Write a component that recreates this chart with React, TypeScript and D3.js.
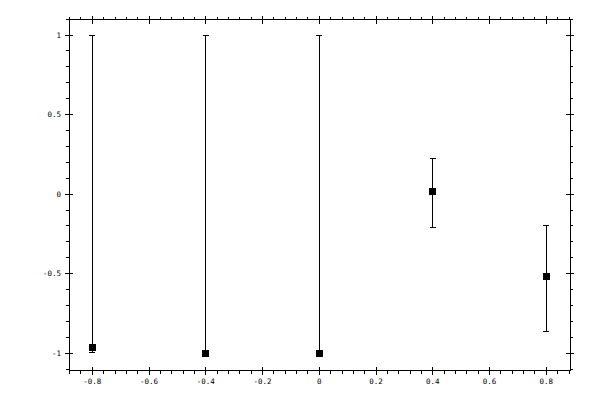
import React from "react";
import * as d3 from "d3";

const xValues = [-0.8, -0.4, 0, 0.4, 0.8];
const yValues = [-0.962, -1.0, -1.0, 0.018, -0.516];
const yLower = [-0.997, -1.0, -1.0, -0.208, -0.861];
const yUpper = [1.0, 1.0, 1.0, 0.223, -0.2];
const xTickLabels = ["-0.8", "-0.6", "-0.4", "-0.2", "0", "0.2", "0.4", "0.6", "0.8"];
const yTickLabels = ["-1", "-0.5", "0", "0.5", "1"];

const W = 600;
const H = 400;
const left = 69;
const right = 570;
const top = 19.5;
const bottom = 370.5;

export default function App() {
  const x = d3.scaleLinear().domain([-0.8, 0.8]).range([92.3, 546.3]);
  const y = d3.scaleLinear().domain([-1, 1]).range([353.2, 35]);

  const xMajor = xTickLabels.map(Number);
  const yMajor = yTickLabels.map(Number);
  const xMinor = d3.range(-22, 23).map((i) => i * 0.04).filter((v) => !xMajor.some((m) => Math.abs(m - v) < 1e-6));
  const yMinor = d3.range(-11, 12).map((i) => i * 0.1).filter((v) => !yMajor.some((m) => Math.abs(m - v) < 1e-6));

  const font = "'DejaVu Sans Mono', monospace";
  const cap = 3;
  const ms = 7;

  return (
    <svg width={W} height={H} style={{ position: "absolute", left: 0, top: 0, background: "#fff" }} shapeRendering="crispEdges">
      <rect x={0} y={0} width={W} height={H} fill="#fff" />
      <g stroke="#000" strokeWidth={1}>
        {/* frame */}
        <line x1={left} y1={top} x2={right} y2={top} />
        <line x1={left} y1={bottom} x2={right} y2={bottom} />
        <line x1={left} y1={top} x2={left} y2={bottom} />
        <line x1={right} y1={top} x2={right} y2={bottom} />
        {/* x minor ticks */}
        {xMinor.map((v, i) => (
          <g key={"xm" + i}>
            <line x1={x(v)} x2={x(v)} y1={bottom} y2={bottom + 3} />
            <line x1={x(v)} x2={x(v)} y1={top} y2={top - 3} />
          </g>
        ))}
        {xMajor.map((v, i) => (
          <g key={"xM" + i}>
            <line x1={x(v)} x2={x(v)} y1={bottom - 4} y2={bottom + 4} />
            <line x1={x(v)} x2={x(v)} y1={top - 4} y2={top + 4} />
          </g>
        ))}
        {yMinor.map((v, i) => (
          <g key={"ym" + i}>
            <line x1={left - 3} x2={left} y1={y(v)} y2={y(v)} />
            <line x1={right} x2={right + 3} y1={y(v)} y2={y(v)} />
          </g>
        ))}
        {yMajor.map((v, i) => (
          <g key={"yM" + i}>
            <line x1={left - 4} x2={left + 4} y1={y(v)} y2={y(v)} />
            <line x1={right - 4} x2={right + 4} y1={y(v)} y2={y(v)} />
          </g>
        ))}
        {/* error bars */}
        {xValues.map((v, i) => (
          <g key={"e" + i}>
            <line x1={x(v)} x2={x(v)} y1={y(yLower[i])} y2={y(yUpper[i])} />
            <line x1={x(v) - cap} x2={x(v) + cap} y1={y(yLower[i])} y2={y(yLower[i])} />
            <line x1={x(v) - cap} x2={x(v) + cap} y1={y(yUpper[i])} y2={y(yUpper[i])} />
          </g>
        ))}
      </g>
      {xValues.map((v, i) => (
        <rect key={"m" + i} x={x(v) - ms / 2} y={y(yValues[i]) - ms / 2} width={ms} height={ms} fill="#000" />
      ))}
      <g fontFamily={font} fontSize={7.5} fill="#000">
        {xMajor.map((v, i) => (
          <text key={"xl" + i} x={x(v)} y={383.5} textAnchor="middle">
            {xTickLabels[i]}
          </text>
        ))}
        {yMajor.map((v, i) => (
          <text key={"yl" + i} x={61} y={y(v) + 2.7} textAnchor="end">
            {yTickLabels[i]}
          </text>
        ))}
      </g>
    </svg>
  );
}
